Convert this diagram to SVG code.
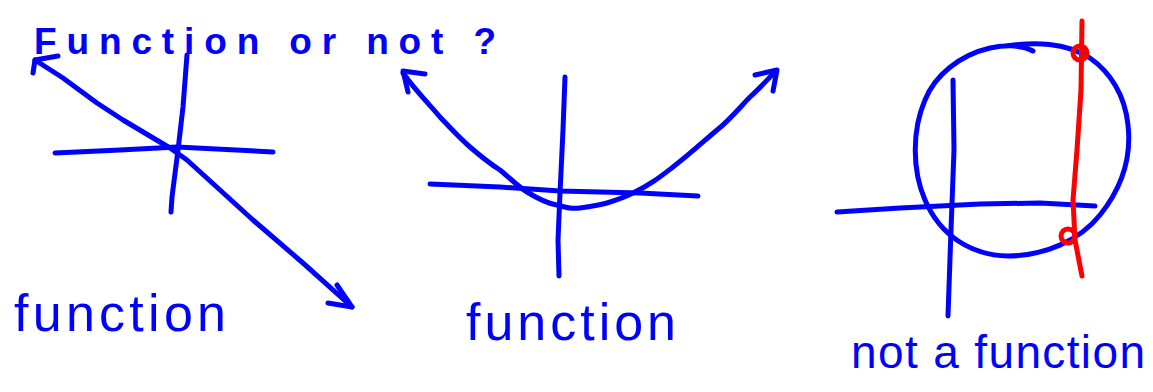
<svg xmlns="http://www.w3.org/2000/svg" width="1153" height="392" viewBox="0 0 1153 392">
<style>
.b{fill:none;stroke:#0000FF;stroke-width:5;stroke-linecap:round;stroke-linejoin:round}
.r{fill:none;stroke:#FF0000;stroke-width:5;stroke-linecap:round;stroke-linejoin:round}
.t{fill:#0000FF;font-family:"Liberation Sans","DejaVu Sans",sans-serif}
</style>
<rect width="1153" height="392" fill="#FFFFFF"/>
<text class="t" x="34" y="54" font-size="37" font-weight="bold" textLength="462" lengthAdjust="spacing">Function or not ?</text>
<g id="graph-line">
<path class="b" d="M55,153 L120,150 L177,147 L273,152"/>
<path class="b" d="M187,55 L183,107 L178,150 L172,197 L171,212"/>
<path class="b" d="M35,60 L63,78 L97,103 L123,120 L170,148 L187,160 L220,190 L253,220 L303,263 L352,307"/>
<path class="b" d="M33,73 L35,60 L58,56"/>
<path class="b" d="M337,285 L352,307 L328,303"/>
</g>
<text id="label-1" class="t" x="14" y="331" font-size="52" textLength="212" lengthAdjust="spacing">function</text>
<g id="graph-parabola">
<path class="b" d="M430,184 L500,187 L560,191 L640,193 L698,196"/>
<path class="b" d="M565,77 L563,130 L560,193 L558,240 L559,276"/>
<path class="b" d="M403,73 C415,90 430,105 440,117 C455,133 462,140 470,147 C485,160 492,165 500,170 C512,180 520,188 527,192 C540,200 550,204 557,205 C568,208 572,209 580,208 C595,206 600,205 607,203 C620,199 625,197 633,193 C650,185 660,177 673,167 C690,154 705,140 717,130 C730,120 742,105 750,97 C760,88 768,79 775,72"/>
<path class="b" d="M425,74 L403,71 L408,92"/>
<path class="b" d="M755,75 L777,70 L773,91"/>
</g>
<text id="label-2" class="t" x="466" y="340" font-size="52" textLength="210" lengthAdjust="spacing">function</text>
<g id="graph-circle">
<path class="b" d="M837,212 L900,208 L980,204 L1040,203 L1095,206"/>
<path class="b" d="M953,80 L954,150 L951,230 L948,316"/>
<path class="b" d="M1033,51 C1020,44 1005,45 990,48 C960,55 935,75 925,100 C912,130 912,170 925,200 C940,235 970,255 1008,256 C1045,256 1080,240 1100,215 C1120,190 1132,160 1128,125 C1125,95 1110,72 1090,58 C1065,42 1035,42 1005,46"/>
<path class="r" d="M1082,21 L1081,90 L1077,150 L1073,200 L1075,240 L1082,276"/>
<circle class="r" cx="1080" cy="53" r="7"/>
<circle class="r" cx="1068" cy="236" r="7"/>
</g>
<text id="label-3" class="t" x="851" y="368" font-size="46" textLength="294" lengthAdjust="spacing">not a function</text>
</svg>
